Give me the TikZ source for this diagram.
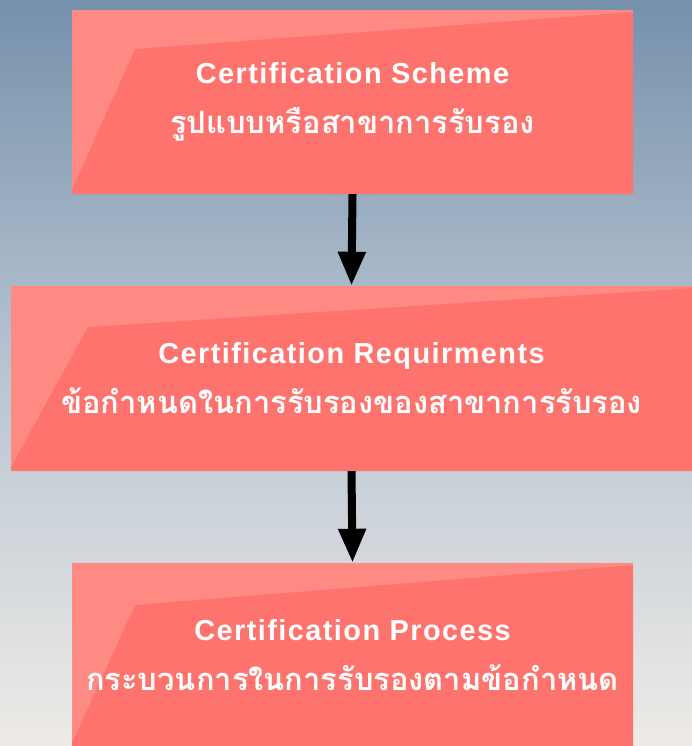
\documentclass[tikz,border=0pt]{standalone}
\usepackage{fontspec}
\setmainfont{Liberation Sans}
\newfontfamily\latinfont[LetterSpace=5]{Liberation Sans}
\newfontfamily\thaifont[Script=Thai]{Loma}
\usetikzlibrary{arrows.meta}
\definecolor{boxdark}{RGB}{255,115,110}
\definecolor{boxlight}{RGB}{255,138,132}
\definecolor{bgtop}{RGB}{118,145,172}
\definecolor{bgmid}{RGB}{186,198,210}
\definecolor{bgbot}{RGB}{238,235,231}
\tikzset{
  stepbox/.style n args={4}{
    rectangle, inner sep=0pt, fill=boxlight, text=white, align=center,
    minimum width=#1, minimum height=#2,
    font=\fontsize{29}{50}\selectfont,
    path picture={
      \fill[boxdark]
        ([xshift=#3,yshift=-#4]path picture bounding box.north west)
        -- ([yshift=-2bp]path picture bounding box.north east)
        -- (path picture bounding box.south east)
        -- (path picture bounding box.south west)
        -- ([yshift=4bp]path picture bounding box.south west)
        -- cycle;
    }
  },
  flowarrow/.style={draw=black, line width=8bp, -{Triangle[width=26bp,length=34bp]}}
}
\newcommand\latinline[1]{{\latinfont\bfseries #1}}
\newcommand\thailine[1]{{\fontsize{31}{50}\selectfont\thaifont\bfseries #1}}
\begin{document}
\begin{tikzpicture}[x=1bp,y=-1bp]
\useasboundingbox (0,0) rectangle (692,746);
\shade[top color=bgtop, bottom color=bgmid] (0,0) rectangle (692,380);
\shade[top color=bgmid, bottom color=bgbot] (0,380) rectangle (692,746);

\node[stepbox={561bp}{184bp}{63bp}{39bp}] (scheme) at (352.5,102)
  {\latinline{Certification Scheme}\\\thailine{รูปแบบหรือสาขาการรับรอง}};
\node[stepbox={681bp}{185bp}{77bp}{41bp}] (req) at (351.5,378.5)
  {\latinline{Certification Requirments}\\\thailine{ข้อกำหนดในการรับรองของสาขาการรับรอง}};
\node[stepbox={561bp}{184bp}{63bp}{42bp}] (proc) at (352.5,655)
  {\latinline{Certification Process}\\\thailine{กระบวนการในการรับรองตามข้อกำหนด}};

\draw[flowarrow] (scheme.south) -- (req.north);
\draw[flowarrow] (req.south) -- (proc.north);
\end{tikzpicture}
\end{document}
